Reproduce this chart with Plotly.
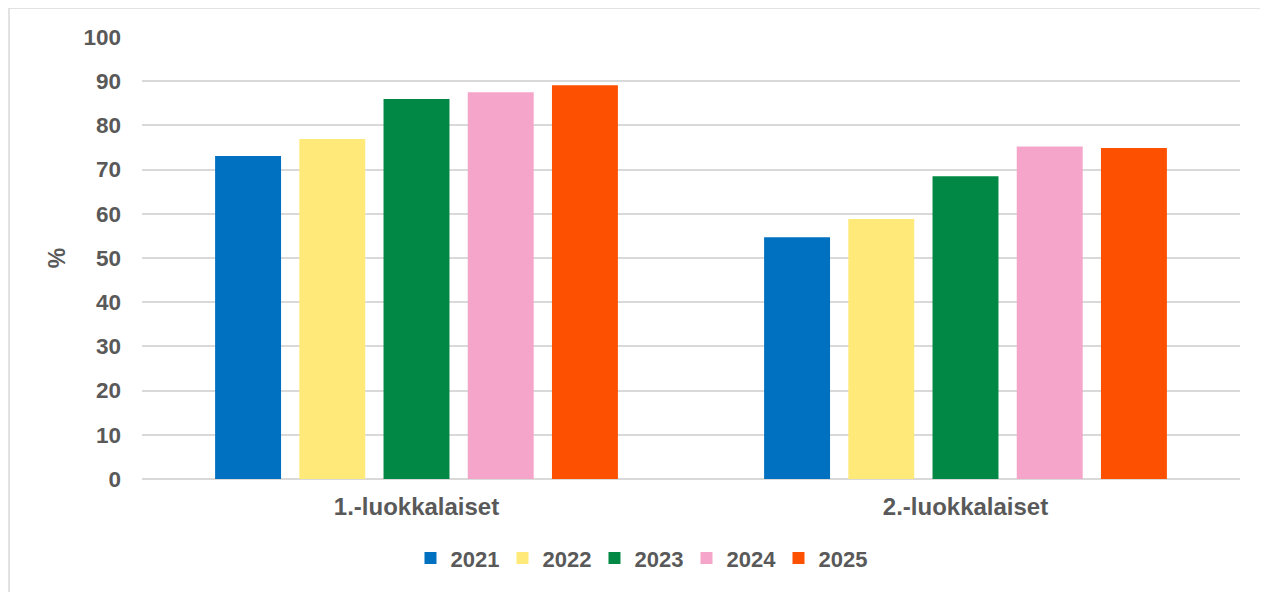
import plotly.graph_objects as go

luokat = ["1.-luokkalaiset", "2.-luokkalaiset"]
vuodet = ["2021", "2022", "2023", "2024", "2025"]
arvot_2021 = [73.1, 54.7]
arvot_2022 = [76.9, 58.8]
arvot_2023 = [86.0, 68.5]
arvot_2024 = [87.5, 75.2]
arvot_2025 = [89.1, 74.9]
y_ticks = [0, 10, 20, 30, 40, 50, 60, 70, 80, 90, 100]

sarjat = [arvot_2021, arvot_2022, arvot_2023, arvot_2024, arvot_2025]
varit = ["#0070C0", "#FFE979", "#008844", "#F4A5C9", "#FD5000"]

fig = go.Figure()
for vuosi, arvot, vari in zip(vuodet, sarjat, varit):
    fig.add_trace(go.Bar(x=luokat, y=arvot, name=vuosi,
                         marker=dict(color=vari, line=dict(width=0))))

grey = "#595959"
ff = "Liberation Sans, Arial"

# sivulla on 8px body-marginaali, joten kuva on 8px pienempi
fig.update_layout(
    width=1260, height=584,
    margin=dict(l=134, r=28, t=29, b=113),
    plot_bgcolor="white", paper_bgcolor="white",
    barmode="group", bargap=0.233, bargroupgap=0.217,
    font=dict(family=ff, size=20, color=grey),
    showlegend=True,
    legend=dict(orientation="h", x=0.454, xanchor="center", y=-0.179, yanchor="middle",
                font=dict(family=ff, size=22, color=grey, weight="bold"),
                entrywidth=47, traceorder="normal"),
    xaxis=dict(showgrid=False, showline=False, ticks="",
               tickfont=dict(family=ff, size=24, color=grey, weight="bold"),
               ticklabelstandoff=11),
    yaxis=dict(range=[0, 100], tickvals=y_ticks, showgrid=True, gridcolor="#d9d9d9", gridwidth=1.5,
               zeroline=True, zerolinecolor="#d9d9d9", zerolinewidth=1.5,
               tickfont=dict(family=ff, size=22.5, color=grey, weight="bold"),
               ticklabelstandoff=20,
               title=dict(text="%", standoff=11,
                          font=dict(family=ff, size=23, color=grey, weight="bold"))),
)

# kehys kaavion ympärillä
fig.add_shape(type="rect", xref="paper", yref="paper",
              x0=-0.1211, x1=1.05, y0=-0.3, y1=1.0656,
              line=dict(color="#d9d9d9", width=1.5), layer="below")

fig.write_html("out.html")
